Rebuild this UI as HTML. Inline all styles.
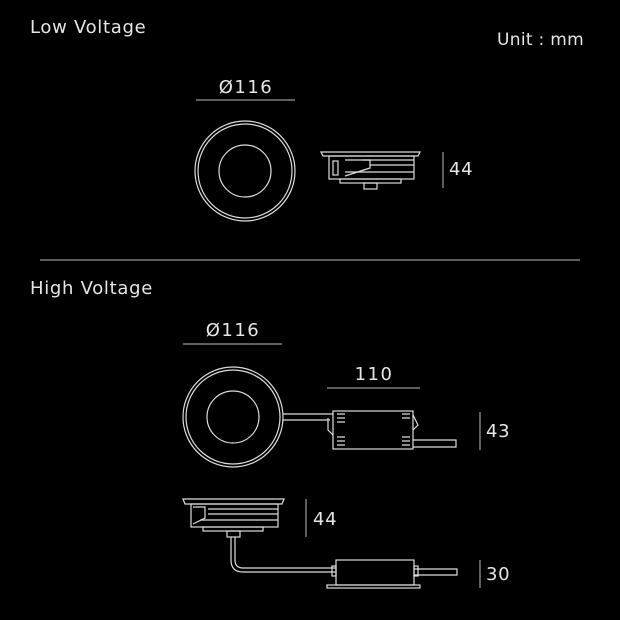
<!DOCTYPE html>
<html><head><meta charset="utf-8"><style>
html,body{margin:0;padding:0;background:#000;}
svg{display:block}
text{font-family:"DejaVu Sans","Liberation Sans",sans-serif;fill:#e6e6e6;}
</style></head><body>
<svg width="620" height="620" viewBox="0 0 620 620" xmlns="http://www.w3.org/2000/svg">
<rect width="620" height="620" fill="#000"/>
<g font-size="18" letter-spacing="0.7">
<text x="30" y="33">Low Voltage</text>
<text x="497" y="45" font-size="17" letter-spacing="0.3">Unit : mm</text>
<text x="246" y="93" text-anchor="middle" letter-spacing="1.5">Ø116</text>
<text x="30" y="294">High Voltage</text>
<text x="233" y="336" text-anchor="middle" letter-spacing="1.5">Ø116</text>
<text x="374" y="380" text-anchor="middle" letter-spacing="1.5">110</text>
<text x="449" y="175">44</text>
<text x="486" y="437">43</text>
<text x="313" y="525">44</text>
<text x="486" y="580">30</text>
</g>
<g stroke="#bbb" stroke-width="1" fill="none">
<line x1="196" y1="100" x2="295" y2="100"/>
<line x1="40" y1="260" x2="580" y2="260"/>
<line x1="183" y1="344" x2="282" y2="344"/>
<line x1="327" y1="388" x2="420" y2="388"/>
<line x1="443" y1="152" x2="443" y2="188"/>
<line x1="480" y1="412" x2="480" y2="450"/>
<line x1="306" y1="499" x2="306" y2="537"/>
<line x1="480" y1="560" x2="480" y2="588"/>
</g>
<g stroke="#ddd" stroke-width="1.2" fill="none">
<circle cx="245" cy="171" r="50"/>
<circle cx="245" cy="171" r="47"/>
<circle cx="245" cy="171" r="26"/>
<path d="M321 152 H420 L418 156 H323 Z"/>
<rect x="329" y="156" width="85" height="23"/>
<rect x="340" y="179" width="61" height="4"/>
<rect x="364" y="183" width="13" height="6"/>
<line x1="363" y1="160" x2="414" y2="160"/><line x1="370" y1="165" x2="414" y2="165"/><line x1="345" y1="172" x2="414" y2="172"/>
<path d="M345 176 L370 168 V160 H345"/>
<rect x="333" y="161" width="5" height="14"/>
<circle cx="233" cy="417" r="50"/>
<circle cx="233" cy="417" r="47"/>
<circle cx="233" cy="417" r="26"/>
<path d="M283 414 H333 M283 420 H330"/>
<rect x="333" y="411" width="80" height="38"/>
<path d="M328 418 V430 L333 435 M413 415 L418 425 L413 430"/>
<path d="M413 440 H456 V447 H413"/>
<path d="M337 414 H345 M337 418 H345 M337 422 H345 M337 437 H345 M337 441 H345 M337 445 H345 M402 414 H410 M402 418 H410 M402 437 H410 M402 441 H410 M402 445 H410"/>
<path d="M183 499 H284 L282 504 H185 Z"/>
<rect x="191" y="504" width="87" height="23"/>
<rect x="203" y="527" width="60" height="4"/>
<rect x="227" y="531" width="13" height="6"/>
<path d="M208 509 H278 M208 514 H278 M200 520 H278"/>
<path d="M193 524 L205 518 V507 H193"/>
<path d="M231 537 V560 Q231 572 243 572 H336 M235 537 V560 Q235 568 243 568 H336"/>
<rect x="336" y="560" width="78" height="25"/>
<rect x="327" y="585" width="93" height="3"/>
<path d="M414 569 H457 V575 H414"/>
<rect x="332" y="566" width="4" height="10"/><rect x="414" y="566" width="4" height="10"/>
</g>
</svg>
</body></html>
